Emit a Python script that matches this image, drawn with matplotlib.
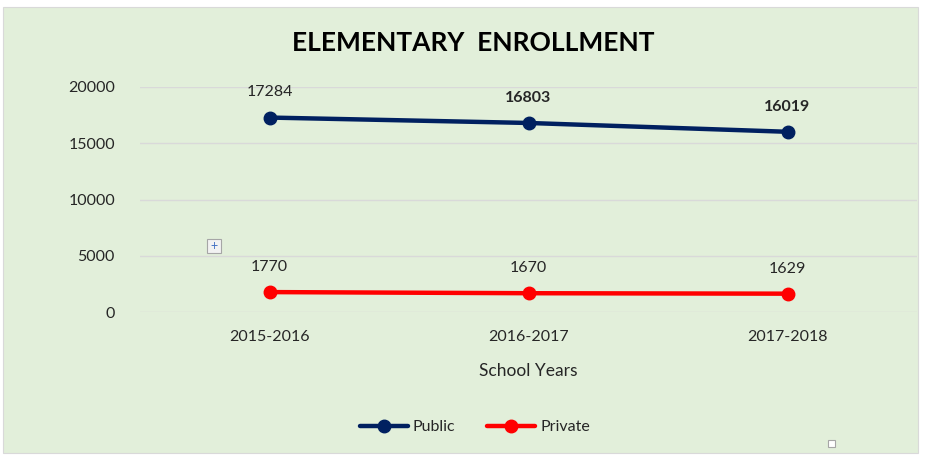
import matplotlib
matplotlib.use("Agg")
import matplotlib.pyplot as plt
from matplotlib.patches import Rectangle

plt.rcParams['font.family'] = ['Lato', 'DejaVu Sans']

years = ['2015-2016', '2016-2017', '2017-2018']
public = [17284, 16803, 16019]
private = [1770, 1670, 1629]
public_bold = [False, True, True]

BG = '#E2EFDA'
NAVY = '#002060'
RED = '#FF0000'

fig = plt.figure(figsize=(9.26, 4.55), dpi=100)
fig.patch.set_facecolor('white')
fig.patches.append(Rectangle((3/926, 2/455), 915/926, 446/455, transform=fig.transFigure,
                             facecolor=BG, edgecolor='#D9D9D9', lw=0.8, zorder=-10))

ax = fig.add_axes([140/926, 1 - 312/455, 777/926, 225/455])
ax.set_facecolor('none')
x = list(range(len(years)))

ax.plot(x, public, color=NAVY, lw=3.2, marker='o', ms=9, label='Public', solid_capstyle='round')
ax.plot(x, private, color=RED, lw=3.2, marker='o', ms=9, label='Private', solid_capstyle='round')

for i in x:
    ax.annotate(str(public[i]), (i, public[i]), xytext=(0, 13), textcoords='offset points',
                ha='center', va='bottom', fontsize=11.5,
                fontweight='bold' if public_bold[i] else 'normal', color='#262626')
    ax.annotate(str(private[i]), (i, private[i]), xytext=(0, 13), textcoords='offset points',
                ha='center', va='bottom', fontsize=11.5, color='#262626')

ax.set_xlim(-0.5, 2.5)
ax.set_ylim(0, 20000)
ax.set_yticks([0, 5000, 10000, 15000, 20000])
ax.set_xticks(x)
ax.set_xticklabels(years)
ax.tick_params(length=0, labelsize=11.5, labelcolor='#262626')
ax.tick_params(axis='x', pad=13)
ax.tick_params(axis='y', pad=18)
ax.grid(axis='y', color='#D9D9D9', lw=1)
ax.set_axisbelow(True)
for s in ax.spines.values():
    s.set_visible(False)

ax.set_xlabel('School Years', fontsize=12.5, color='#262626', labelpad=14)
fig.text(473/926, 1 - 43/455, 'ELEMENTARY  ENROLLMENT', ha='center', va='center',
         fontsize=19, fontweight='bold', color='black')

fig.legend(loc='center', bbox_to_anchor=(475/926, 1 - 427/455), ncol=2, frameon=False,
           fontsize=11.5, handlelength=3, columnspacing=2, handletextpad=0.3,
           labelcolor='#262626')

# small chart-selection handles from the screenshot
fig.patches.append(Rectangle((207/926, 1 - 253/455), 14/926, 14/455, transform=fig.transFigure,
                             facecolor='#F2F2F2', edgecolor='#A6A6A6', lw=0.8, zorder=5))
fig.text(214/926, 1 - 246/455, '+', ha='center', va='center', fontsize=9, color='#4472C4', zorder=6)
fig.patches.append(Rectangle((828/926, 1 - 447/455), 7/926, 7/455, transform=fig.transFigure,
                             facecolor='white', edgecolor='#A6A6A6', lw=0.8, zorder=5))

fig.savefig('out.png', dpi=100, facecolor=fig.get_facecolor())
